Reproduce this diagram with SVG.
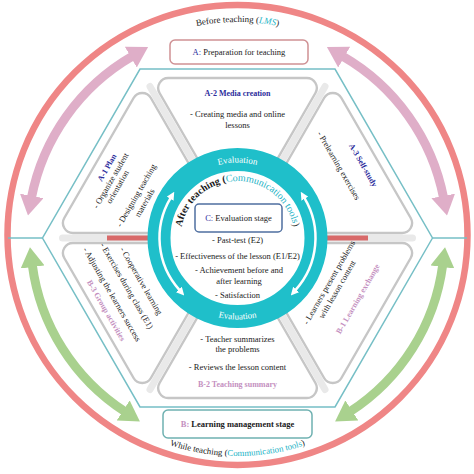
<svg xmlns="http://www.w3.org/2000/svg" width="474" height="474" viewBox="0 0 474 474">
<defs>
<style>
text{font-family:"Liberation Serif","Times New Roman",serif;fill:#1a1a1a}
.b{font-size:8.5px}
.h{font-size:8px;font-weight:bold}
.m{text-anchor:middle}
.blue{fill:#2c2c9c}
.pink{fill:#c48fc0}
.teal{fill:#22b3c6}
.w{fill:#ffffff;font-size:9px}
.sec{fill:#fff;stroke:#c6c6c6;stroke-width:2.4}
.spoke{stroke:#e9e9e9;stroke-width:7;stroke-linecap:round}
.red{stroke:#d86a6a;stroke-width:5}
.hexl{fill:none;stroke:#76bfc6;stroke-width:1.5}
.box{fill:#fff;stroke-width:1.5}
.arr{fill:none;stroke-width:9}
.warr{fill:none;stroke:#fff;stroke-width:2.5}
</style>
<path id="sec" d="M237.5,228 L159.56,93 A10,10 0 0 1 168.2,78 L306.8,78 A10,10 0 0 1 315.44,93 Z"/>
<marker id="mPink" markerUnits="userSpaceOnUse" viewBox="0 0 20 24" refX="2" refY="12" markerWidth="20" markerHeight="24" orient="auto-start-reverse"><path d="M0,0 L20,12 L0,24 Z" fill="#dfaec8"/></marker>
<marker id="mGreen" markerUnits="userSpaceOnUse" viewBox="0 0 20 24" refX="2" refY="12" markerWidth="20" markerHeight="24" orient="auto-start-reverse"><path d="M0,0 L20,12 L0,24 Z" fill="#a9d18e"/></marker>
<marker id="mWhite" markerUnits="userSpaceOnUse" viewBox="0 0 8 8" refX="1" refY="4" markerWidth="8" markerHeight="8" orient="auto-start-reverse"><path d="M0,0 L8,4 L0,8 Z" fill="#fff"/></marker>
<path id="pBefore" d="M129.5,50.94 A216,216 0 0 1 345.5,50.94"/>
<path id="pWhile" d="M97.37,405 A218,218 0 0 0 377.63,405"/>
<path id="pAfter" d="M188.14,266.5 A57,57 0 1 1 286.86,266.5"/>
<path id="pEvTop" d="M166.55,212.18 A75.5,75.5 0 0 1 308.45,212.18"/>
<path id="pEvBot" d="M160.92,265.87 A81.5,81.5 0 0 0 314.08,265.87"/>
</defs>
<rect width="474" height="474" fill="#fff"/>

<g id="outer">
<ellipse cx="237.5" cy="235" rx="230" ry="230" fill="none" stroke="#ef8686" stroke-width="6.5"/>
<line x1="8" y1="238" x2="42.5" y2="238" stroke="#76bfc6" stroke-width="1.5"/>
<line x1="432.5" y1="238" x2="467" y2="238" stroke="#76bfc6" stroke-width="1.5"/>
<polygon class="hexl" points="432.5,238 335,406.9 140,406.9 42.5,238 140,69.1 335,69.1"/>
<text font-size="9" class="m"><textPath href="#pBefore" startOffset="50%">Before teaching (<tspan class="teal" font-style="italic">LMS</tspan>)</textPath></text>
<text font-size="8.8" class="m"><textPath href="#pWhile" startOffset="50%">While teaching (<tspan class="teal">Communication tools</tspan>)</textPath></text>
</g>

<g id="connectors">
<path class="arr" stroke="#dfaec8" d="M31.4,197.9 A210,210 0 0 1 132.5,56.1" marker-start="url(#mPink)" marker-end="url(#mPink)"/>
<path class="arr" stroke="#dfaec8" d="M342.5,56.1 A210,210 0 0 1 443.6,197.9" marker-start="url(#mPink)" marker-end="url(#mPink)"/>
<path class="arr" stroke="#a9d18e" d="M124.8,411.6 A207,207 0 0 1 32.3,265" marker-start="url(#mGreen)" marker-end="url(#mGreen)"/>
<path class="arr" stroke="#a9d18e" d="M442.7,265 A207,207 0 0 1 350.2,411.6" marker-start="url(#mGreen)" marker-end="url(#mGreen)"/>
<line class="spoke" x1="62.5" y1="238" x2="412.5" y2="238"/>
<line class="spoke" x1="150" y1="86.45" x2="325" y2="389.55"/>
<line class="spoke" x1="325" y1="86.45" x2="150" y2="389.55"/>
<line class="red" x1="107" y1="238" x2="150" y2="238"/>
<line class="red" x1="325" y1="238" x2="368" y2="238"/>
</g>

<g id="A">
<rect class="box" x="170" y="40" width="138" height="24" rx="5" stroke="#cf9194"/>
<text class="b m" x="239" y="55"><tspan class="blue">A:</tspan> Preparation for teaching</text>
</g>

<g id="A2">
<use href="#sec" class="sec"/>
<text class="h m blue" x="237.5" y="96">A-2 Media creation</text>
<text class="b m" x="237.5" y="117">- Creating media and online</text>
<text class="b m" x="237.5" y="128">lessons</text>
</g>

<g id="A3">
<use href="#sec" class="sec" transform="rotate(60 237.5 238)"/>
<g transform="rotate(60)">
<text class="h m blue" x="324.6" y="-229.3">A-3 Self-study</text>
<text class="b m" x="312.8" y="-207.8">- Prelearning exercises</text>
</g>
</g>

<g id="B1">
<use href="#sec" class="sec" transform="rotate(120 237.5 238)"/>
<g transform="rotate(-60)">
<text class="b m" x="-80" y="429">- Learners present problems</text>
<text class="b m" x="-82" y="439.5">with lesson content</text>
<text class="h m pink" x="-80" y="462">B-1 Learning exchange</text>
</g>
</g>

<g id="B2">
<use href="#sec" class="sec" transform="rotate(180 237.5 238)"/>
<text class="b m" x="237.5" y="342">- Teacher summarizes</text>
<text class="b m" x="237.5" y="352">the problems</text>
<text class="b m" x="237.5" y="370">- Reviews the lesson content</text>
<text class="h m pink" x="237.5" y="387">B-2 Teaching summary</text>
</g>

<g id="B3">
<use href="#sec" class="sec" transform="rotate(240 237.5 238)"/>
<g transform="rotate(60)">
<text class="b m" x="314" y="21">- Cooperative learning</text>
<text class="b m" x="311" y="36">- Exercises during class (E1)</text>
<text class="b m" x="311" y="53">- Adjusting the learners success</text>
<text class="h m pink" x="322" y="66">B-3 Group activities</text>
</g>
</g>

<g id="A1">
<use href="#sec" class="sec" transform="rotate(300 237.5 238)"/>
<g transform="rotate(-60)">
<text class="h m blue" x="-91.7" y="179">A-1 Plan</text>
<text class="b m" x="-101" y="189">- Organize student</text>
<text class="b m" x="-103" y="198">orientation</text>
<text class="b m" x="-101" y="218.5">- Designing teaching</text>
<text class="b m" x="-103.5" y="229.5">materials</text>
</g>
</g>

<g id="C">
<circle cx="237.5" cy="238" r="78.5" fill="#fff" stroke="#1fbfca" stroke-width="23"/>
<text class="w m"><textPath href="#pEvTop" startOffset="50%">Evaluation</textPath></text>
<text class="w m"><textPath href="#pEvBot" startOffset="50%">Evaluation</textPath></text>
<path class="warr" d="M170.64,197.83 A78,78 0 0 0 179.54,290.19" marker-start="url(#mWhite)" marker-end="url(#mWhite)"/>
<path class="warr" d="M304.36,197.83 A78,78 0 0 1 295.46,290.19" marker-start="url(#mWhite)" marker-end="url(#mWhite)"/>
<text font-size="10" class="m"><textPath href="#pAfter" startOffset="50%"><tspan font-weight="bold">After teaching (</tspan><tspan class="teal">Communication tools</tspan>)</textPath></text>
<rect class="box" x="195" y="204" width="87" height="28" rx="4" stroke="#4f6fa0"/>
<text class="b m" x="238.5" y="221"><tspan class="blue">C:</tspan> Evaluation stage</text>
<text class="b m" x="237.5" y="242.5">- Past-test (E2)</text>
<text class="b m" x="237.5" y="259">- Effectiveness of the lesson (E1/E2)</text>
<text class="b m" x="239" y="273">- Achievement before and</text>
<text class="b m" x="239" y="283.5">after learning</text>
<text class="b m" x="237.5" y="297.5">- Satisfaction</text>
</g>

<g id="B">
<rect class="box" x="163" y="410" width="149" height="28" rx="5" stroke="#6fb1b1"/>
<text class="b m" x="237.5" y="427" font-weight="bold"><tspan class="pink">B:</tspan> Learning management stage</text>
</g>
</svg>
